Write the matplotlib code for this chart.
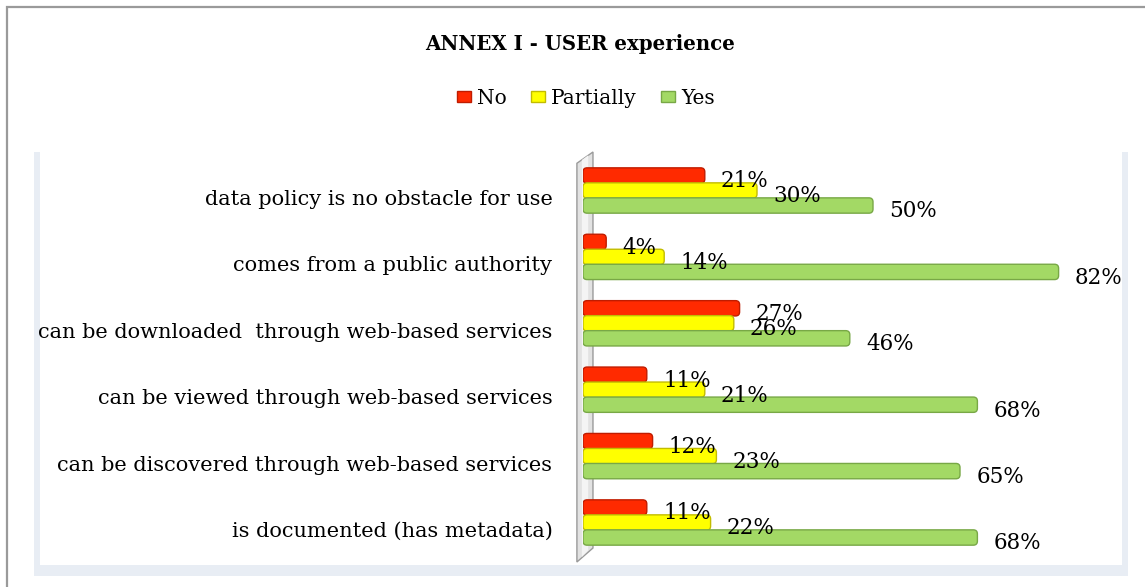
import matplotlib.pyplot as plt
from matplotlib.patches import Rectangle, Polygon, FancyBboxPatch

# === Data ===
categories = [
    "is documented (has metadata)",
    "can be discovered through web-based services",
    "can be viewed through web-based services",
    "can be downloaded  through web-based services",
    "comes from a public authority",
    "data policy is no obstacle for use",
]
no_vals = [11, 12, 11, 27, 4, 21]
partially_vals = [22, 23, 21, 26, 14, 30]
yes_vals = [68, 65, 68, 46, 82, 50]

series_names = ["No", "Partially", "Yes"]
face_colors = ["#FF2A00", "#FFFF00", "#A3D965"]
edge_colors = ["#C01C00", "#C2BC00", "#78A846"]

plt.rcParams['font.family'] = ['DejaVu Serif']

W, H = 1145, 587
fig = plt.figure(figsize=(W / 100, H / 100), dpi=100)

def fx(px):
    return px / W

def fy(py):
    return 1 - py / H

# === Frame and plot-area box ===
fig.patches.append(Rectangle((fx(7), fy(600)), fx(1150) - fx(7), fy(7) - fy(600),
                             transform=fig.transFigure, fill=False,
                             edgecolor="#9A9A9A", linewidth=1.6, zorder=-3))
fig.patches.append(Rectangle((fx(34), fy(576)), fx(1128) - fx(34), fy(152) - fy(576),
                             transform=fig.transFigure, facecolor="#E8EDF4",
                             edgecolor="none", zorder=-2))
fig.patches.append(Rectangle((fx(40), fy(565)), fx(1122) - fx(40), fy(150) - fy(565),
                             transform=fig.transFigure, facecolor="white",
                             edgecolor="none", zorder=-1))

# === Axes ===
ax = fig.add_axes([fx(583), fy(565), fx(1122) - fx(583), fy(150) - fy(565)])
ax.set_facecolor("none")
ax.set_xlim(0, 539 / 5.8)
ax.set_ylim(-0.64, 5.61)
for s in ax.spines.values():
    s.set_visible(False)
ax.set_xticks([])

# 3D wall behind the bars
ax.add_patch(Polygon([(-1.05, 5.41), (1.72, 5.58), (1.72, -0.384), (-1.05, -0.595)],
                     closed=True, facecolor="#E2E2E2", edgecolor="#9A9A9A",
                     linewidth=1.0, zorder=1, clip_on=False))
ax.add_patch(Polygon([(-0.2, 5.46), (0.9, 5.53), (0.9, -0.42), (-0.2, -0.52)],
                     closed=True, facecolor="#F4F4F4", edgecolor="none",
                     zorder=1.5, clip_on=False))

bh = 0.226
ypos = list(range(len(categories)))
offsets = [bh, 0, -bh]
all_vals = [no_vals, partially_vals, yes_vals]

y_per_px = 1 / 66.4
x_per_px = 1 / 5.8
for k, vals in enumerate(all_vals):
    yy = [y + offsets[k] for y in ypos]
    bars = ax.barh(yy, vals, height=bh * 1.02, color=face_colors[k], label=series_names[k])
    for rect in bars:
        rect.set_visible(False)
        fb = FancyBboxPatch((rect.get_x(), rect.get_y()), rect.get_width(), rect.get_height(),
                            boxstyle="round,pad=0,rounding_size=0.7",
                            mutation_aspect=y_per_px / x_per_px,
                            facecolor=face_colors[k], edgecolor=edge_colors[k],
                            linewidth=1.0, zorder=3 + k)
        ax.add_patch(fb)
    for y, v in zip(yy, vals):
        ax.text(v + 2.8, y - 0.09, f"{v}%", ha="left", va="center",
                fontsize=15.5, color="black", zorder=10, clip_on=False)

ax.set_yticks([y - 0.105 for y in ypos])
ax.set_yticklabels(categories, fontsize=15)
ax.tick_params(axis="y", length=0, pad=22)

# === Title and legend ===
fig.text(fx(580), fy(44), "ANNEX I - USER experience", ha="center", va="center",
         fontsize=14.2, fontweight="bold")
handles = [Rectangle((0, 0), 1, 1, facecolor=face_colors[k], edgecolor=edge_colors[k])
           for k in range(3)]
fig.legend(handles, series_names, loc="center", bbox_to_anchor=(fx(586), fy(98)),
           ncol=3, frameon=False, fontsize=14.5, handlelength=0.7, handleheight=0.5,
           handletextpad=0.3, columnspacing=1.2)

fig.savefig("out.png", dpi=100)
